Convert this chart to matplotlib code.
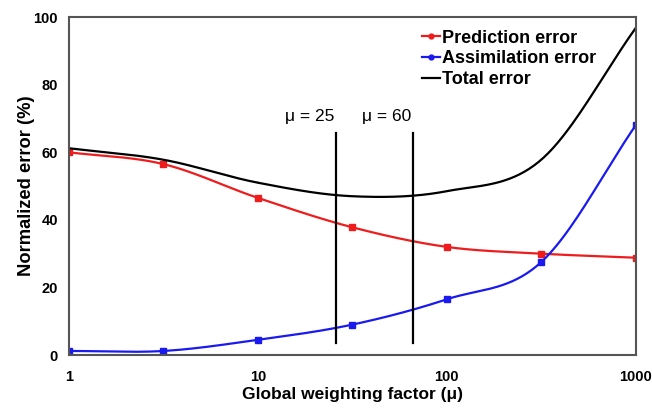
import numpy as np
import matplotlib
matplotlib.use("Agg")
import matplotlib.pyplot as plt
from matplotlib.lines import Line2D
from matplotlib.transforms import offset_copy

mu=[1,3.16,10,31.6,100,316,1000]
prediction=[60.0,56.5,46.5,37.8,32.0,30.0,28.8]
assimilation=[1.2,1.2,4.5,9.0,16.5,27.5,68.0]
total=[61.2,57.8,51.0,47.0,48.5,57.8,96.8]
mu_marks=[26,66]
mu_labels=["\u03bc = 25","\u03bc = 60"]

def smooth(x,y,n=40):
    # catmull-rom through the points, in log-x space
    lx=np.log10(x);y=np.asarray(y,float)
    px=np.concatenate([[2*lx[0]-lx[1]],lx,[2*lx[-1]-lx[-2]]])
    py=np.concatenate([[2*y[0]-y[1]],y,[2*y[-1]-y[-2]]])
    xs=[];ys=[]
    for i in range(1,len(px)-2):
        t=np.linspace(0,1,n)
        for arr,out in ((px,xs),(py,ys)):
            p0,p1,p2,p3=arr[i-1:i+3]
            out.extend(0.5*(2*p1+(-p0+p2)*t+(2*p0-5*p1+4*p2-p3)*t**2+(-p0+3*p1-3*p2+p3)*t**3))
    return 10**np.array(xs),np.array(ys)

plt.rcParams['font.family']=['Liberation Sans','DejaVu Sans']
fig=plt.figure(figsize=(6.52,4.09),dpi=100)
ax=fig.add_axes([0.106,0.132,0.869,0.826])

red="#ee1c1c";blue="#1a1aee"
sx,sy=smooth(mu,prediction);ax.plot(sx,sy,color=red,lw=1.6)
ax.plot(mu,prediction,ls="none",marker="s",ms=4,color=red)
sx,sy=smooth(mu,assimilation);ax.plot(sx,sy,color=blue,lw=1.6)
ax.plot(mu,assimilation,ls="none",marker="s",ms=4,color=blue)
sx,sy=smooth(mu,total);ax.plot(sx,sy,color="black",lw=1.6)

for m,lab in zip(mu_marks,mu_labels):
    ax.plot([m,m],[3.5,65.7],color="black",lw=1.6)
    ax.text(m,68.5,lab,ha="right",va="bottom",fontsize=12.5,
            transform=offset_copy(ax.transData,fig=fig,x=-2,y=0,units="dots"))

handles=[Line2D([],[],color=red,marker="o",ms=3.5,lw=1.6),
         Line2D([],[],color=blue,marker="o",ms=3.5,lw=1.6),
         Line2D([],[],color="black",lw=1.6)]
ax.legend(handles,["Prediction error","Assimilation error","Total error"],loc="upper left",
          bbox_to_anchor=(0.60,1.0),frameon=False,handlelength=1.0,handletextpad=0.15,
          labelspacing=0.2,borderaxespad=0.3,prop={"weight":"bold","size":13})

ax.set_xscale("log");ax.set_xlim(1,1000);ax.set_ylim(0,100)
ax.set_xticks([1,10,100,1000]);ax.set_xticklabels(["1","10","100","1000"])
ax.xaxis.set_minor_locator(matplotlib.ticker.NullLocator())
ax.set_yticks([0,20,40,60,80,100])
ax.tick_params(axis="y",length=0,labelsize=10.5,pad=8)
ax.tick_params(axis="x",length=0,labelsize=10.5,pad=11)
for lab in ax.get_xticklabels()+ax.get_yticklabels():lab.set_fontweight("bold")
for s in ax.spines.values():s.set_color("#555555");s.set_linewidth(1.5)
ax.set_xlabel("Global weighting factor (\u03bc)",fontsize=12.5,fontweight="bold",labelpad=2)
ax.set_ylabel("Normalized error (%)",fontsize=13.2,fontweight="bold",labelpad=-1)
fig.savefig("out.png",dpi=100)
